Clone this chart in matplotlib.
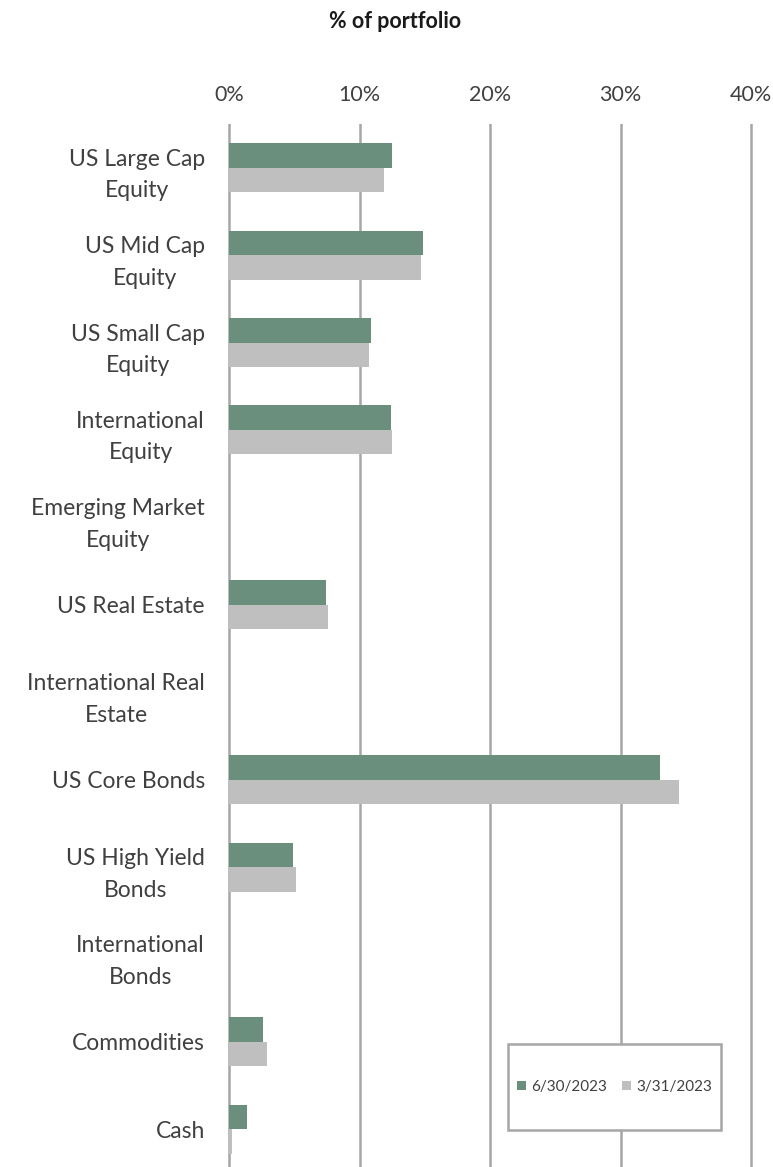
import matplotlib.pyplot as plt
from matplotlib.patches import Rectangle
import numpy as np

# Données (% du portefeuille)
categories = ['US Large Cap\nEquity', 'US Mid Cap\nEquity', 'US Small Cap\nEquity',
              'International\nEquity', 'Emerging Market\nEquity', 'US Real Estate',
              'International Real\nEstate', 'US Core Bonds', 'US High Yield\nBonds',
              'International\nBonds', 'Commodities', 'Cash']
jun_2023 = [12.5, 14.9, 10.9, 12.4, 0, 7.4, 0, 33.0, 4.9, 0, 2.6, 1.4]
mar_2023 = [11.9, 14.7, 10.7, 12.5, 0, 7.6, 0, 34.5, 5.1, 0, 2.9, 0.25]
xticks = [0, 10, 20, 30, 40]
xtick_labels = ['0%', '10%', '20%', '30%', '40%']
series_names = ['6/30/2023', '3/31/2023']

green = '#6a8f7c'
grey = '#bfbfbf'
text_col = '#404040'

plt.rcParams['font.family'] = ['Lato', 'DejaVu Sans']

W, H = 773, 1167
fig = plt.figure(figsize=(W / 100, H / 100), dpi=100)

# position de l'axe en pixels (0% a x=229, 40% a x=751)
xmin, xmax = -0.15, 40.25
ppu = (751 - 229) / 40
left_px = 229 + xmin * ppu
right_px = 229 + xmax * ppu
top_px, bottom_px = 124, 1173
ax = fig.add_axes([left_px / W, 1 - bottom_px / H,
                   (right_px - left_px) / W, (bottom_px - top_px) / H])

y = np.arange(len(categories))
h = 0.28
ax.barh(y - h / 2, jun_2023, height=h, color=green, linewidth=0,
        label=series_names[0])
ax.barh(y + h / 2, mar_2023, height=h, color=grey, linewidth=0,
        label=series_names[1])

ax.set_xlim(xmin, xmax)
ax.set_ylim(len(categories) - 0.5, -0.5)
ax.set_xticks(xticks)
ax.set_xticklabels(xtick_labels, fontsize=15.5, color=text_col)
ax.xaxis.tick_top()
ax.tick_params(axis='x', length=0, pad=14)
ax.set_yticks(y)
ax.set_yticklabels(categories, fontsize=16.5, color=text_col,
                   multialignment='center', linespacing=1.62)
ax.tick_params(axis='y', length=0, pad=16)
ax.grid(axis='x', color='#a6a6a6', linewidth=1.8)
ax.set_axisbelow(True)
for s in ax.spines.values():
    s.set_visible(False)

fig.text(395 / W, 1 - 22 / H, '% of portfolio', ha='center', va='center',
         fontsize=15.5, fontweight='bold', color='#1a1a1a')

# cadre de la légende
bx0, by0, bx1, by1 = 508, 1044, 721, 1130
fig.patches.append(Rectangle((bx0 / W, 1 - by1 / H), (bx1 - bx0) / W, (by1 - by0) / H,
                             transform=fig.transFigure, facecolor='white',
                             edgecolor='#a6a6a6', linewidth=1.8, zorder=5))
handles, labels = ax.get_legend_handles_labels()
leg = fig.legend(handles, labels, loc='center', ncol=2, frameon=False,
                 bbox_to_anchor=((bx0 + bx1) / 2 / W, 1 - (by0 + by1) / 2 / H),
                 fontsize=11, handlelength=0.6, handleheight=0.6,
                 handletextpad=0.3, columnspacing=1.0, labelcolor=text_col)
leg.set_zorder(6)

fig.savefig('out.png', dpi=100)
